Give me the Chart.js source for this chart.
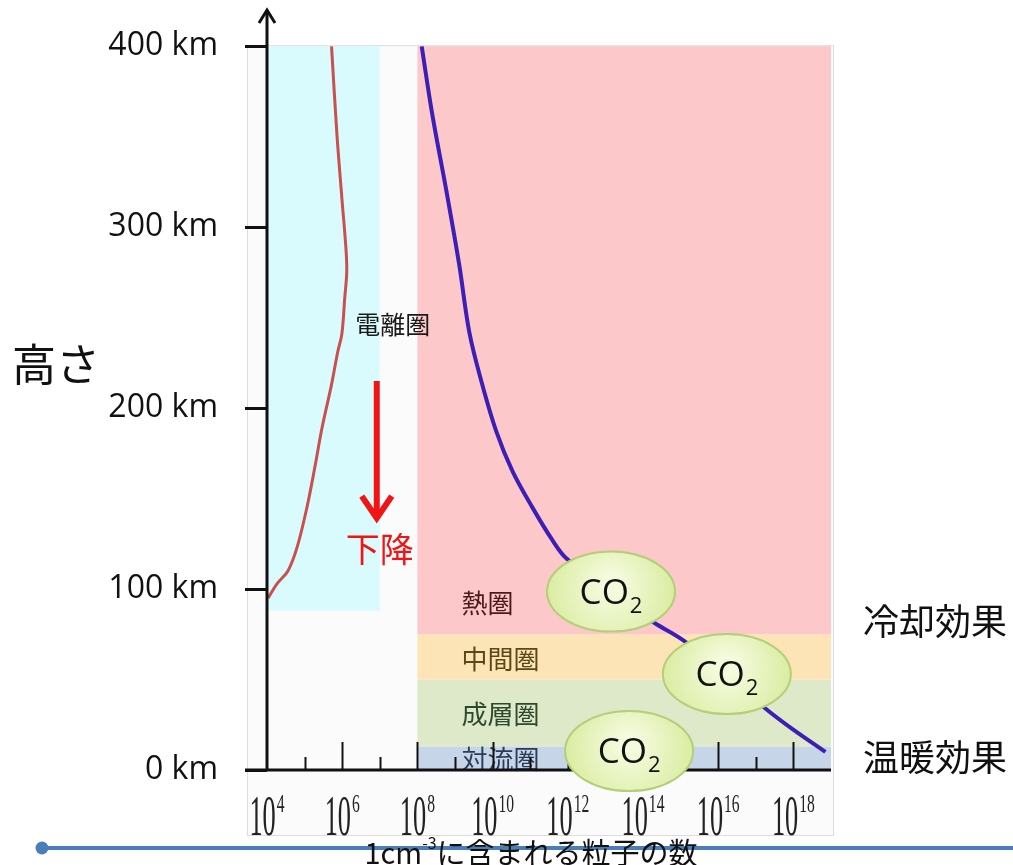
<!DOCTYPE html>
<html lang="ja">
<head>
<meta charset="utf-8">
<title>高さと粒子の数</title>
<script src="https://cdn.jsdelivr.net/npm/chart.js@4.4.1/dist/chart.umd.min.js"></script>
<style>
    html, body { margin: 0; padding: 0; background: #fff; }
    #chart { display: block; }
</style>
</head>
<body>
<canvas id="chart" width="1013" height="865"></canvas>
<script>
// 高さの目盛 (km)
const altTicks = [0, 100, 200, 300, 400];
// x軸: 10^n の目盛 (ラベルは偶数のみ)
const decades = [5, 6, 7, 8, 9, 10, 11, 12, 13, 14, 15, 16, 17, 18];
const labelledDecades = [4, 6, 8, 10, 12, 14, 16, 18];

// 電離圏のイオン密度 (赤線)
const ionAlt = [400, 352, 316, 288, 275, 261, 241, 231, 213, 189, 167, 145, 123, 110, 103, 95];
const ionDensity = [5.2e5, 7.2e5, 9.8e5, 1.26e6, 1.32e6, 1.17e6, 9.8e5, 7.6e5, 5.2e5,
    2.9e5, 1.86e5, 1.15e5, 6.3e4, 3.6e4, 1.86e4, 1.07e4];

// 大気の粒子数密度 (青線)
const gasAlt = [400, 362, 320, 279, 242, 215, 187, 165, 145, 127, 117, 99, 81.5, 70.5, 34, 23, 10];
const gasDensity = [1.3e8, 2.5e8, 5.9e8, 1.3e9, 2.4e9, 5.0e9, 1.26e10, 3.4e10, 1.15e11,
    3.9e11, 9.1e11, 1.26e13, 1.95e14, 1.4e15, 1.8e17, 8.9e17, 7.1e18];

// 大気の層
const layerNames = ['対流圏', '成層圏', '中間圏', '熱圏'];
const layerBottom = [0, 13, 50, 75];
const layerTop = [13, 50, 75, 400];
const layerRange = [1e8, 1e19];

// 電離圏の範囲
const ionoRange = [1e4, 1e7];
const ionoAltRange = [88, 400];

// 見た目
const layerFill = ['#c6d5e8', '#dde9c9', '#fde4b7', '#fcc8c9'];
const layerInk = ['#2b3b58', '#2e4a2c', '#5a4816', '#4c1a1a'];
const layerLabelAlt = [6, 31, 61, 92];
const co2Marks = [[1.41e13, 98.6], [1.7e16, 53], [4.27e13, 10.5]];

Chart.defaults.font.family = '"Open Sans", "Noto Sans CJK JP", sans-serif';
Chart.defaults.color = "#111";

function toPoints(xs, ys) {
    return xs.map(function (v, i) { return {x: v, y: ys[i]}; });
}

function drawPower(ctx, cx, exp) {
    var sx = 0.47;
    ctx.font = '56px "Liberation Serif"';
    var wBase = ctx.measureText('10').width * sx;
    ctx.font = '26px "Liberation Serif"';
    var wExp = ctx.measureText(String(exp)).width * 0.6;
    var left = cx - (wBase + wExp + 1) / 2;
    ctx.save();
    ctx.translate(left, 835);
    ctx.scale(sx, 1);
    ctx.font = '56px "Liberation Serif"';
    ctx.fillText('10', 0, 0);
    ctx.restore();
    ctx.save();
    ctx.translate(left + wBase + 1, 812);
    ctx.scale(0.6, 1);
    ctx.font = '26px "Liberation Serif"';
    ctx.fillText(String(exp), 0, 0);
    ctx.restore();
}

function drawCO2(ctx, cx, cy) {
    var g = ctx.createRadialGradient(cx, cy - 8, 10, cx, cy, 66);
    g.addColorStop(0, '#f4fadc');
    g.addColorStop(1, '#d9ec9f');
    ctx.beginPath();
    ctx.ellipse(cx, cy, 64, 40, 0, 0, Math.PI * 2);
    ctx.fillStyle = g;
    ctx.fill();
    ctx.lineWidth = 2;
    ctx.strokeStyle = '#b4cf78';
    ctx.stroke();
    ctx.fillStyle = '#111';
    ctx.textBaseline = 'alphabetic';
    ctx.textAlign = 'left';
    ctx.font = '35px "Open Sans"';
    var w1 = ctx.measureText('CO').width;
    ctx.font = '22px "Open Sans"';
    var w2 = ctx.measureText('2').width;
    var left = cx - (w1 + w2 + 1) / 2;
    ctx.font = '35px "Open Sans"';
    ctx.fillText('CO', left, cy + 12);
    ctx.font = '22px "Open Sans"';
    ctx.fillText('2', left + w1 + 1, cy + 21);
}

const atmospherePlugin = {
    id: 'atmosphere',
    beforeDraw: function (chart) {
        var ctx = chart.ctx, a = chart.chartArea, x = chart.scales.x, y = chart.scales.y;
        ctx.save();
        ctx.fillStyle = '#fff';
        ctx.fillRect(0, 0, chart.width, chart.height);

        // 元図の枠
        ctx.fillStyle = '#fbfbfb';
        ctx.fillRect(a.left - 20, a.top, a.width + 22, a.height + 66);
        ctx.strokeStyle = '#dcdcdc';
        ctx.lineWidth = 1;
        ctx.strokeRect(a.left - 19.5, a.top - 0.5, a.width + 22, a.height + 66);

        // 電離圏
        var x0 = x.getPixelForValue(ionoRange[0]), x1 = x.getPixelForValue(ionoRange[1]);
        var y0 = y.getPixelForValue(ionoAltRange[1]), y1 = y.getPixelForValue(ionoAltRange[0]);
        ctx.fillStyle = '#d9fbfd';
        ctx.fillRect(x0, y0, x1 - x0, y1 - y0);

        // 大気の層
        var lx0 = x.getPixelForValue(layerRange[0]), lx1 = x.getPixelForValue(layerRange[1]);
        layerNames.forEach(function (name, i) {
            var t = y.getPixelForValue(layerTop[i]), b = y.getPixelForValue(layerBottom[i]);
            ctx.fillStyle = layerFill[i];
            ctx.fillRect(lx0, t, lx1 - lx0, b - t);
        });
        ctx.restore();
    },
    afterDatasetsDraw: function (chart) {
        var ctx = chart.ctx, a = chart.chartArea, x = chart.scales.x, y = chart.scales.y;
        ctx.save();

        // 層の名前
        ctx.font = '26px "Noto Sans CJK JP"';
        ctx.textBaseline = 'middle';
        ctx.textAlign = 'left';
        var lx = x.getPixelForValue(layerRange[0]) + 44;
        layerNames.forEach(function (name, i) {
            ctx.fillStyle = layerInk[i];
            ctx.fillText(name, lx, y.getPixelForValue(layerLabelAlt[i]));
        });

        // x軸の目盛
        ctx.strokeStyle = '#111';
        ctx.lineWidth = 2;
        decades.forEach(function (n) {
            var px = Math.round(x.getPixelForValue(Math.pow(10, n))) + 0.5;
            var len = (n % 2 === 0) ? 28 : 13;
            ctx.beginPath();
            ctx.moveTo(px, a.bottom);
            ctx.lineTo(px, a.bottom - len);
            ctx.stroke();
        });

        // 軸
        ctx.lineWidth = 3;
        ctx.beginPath();
        ctx.moveTo(a.left - 22, a.bottom);
        ctx.lineTo(a.right, a.bottom);
        ctx.stroke();
        ctx.beginPath();
        ctx.moveTo(a.left, a.bottom);
        ctx.lineTo(a.left, 10);
        ctx.stroke();
        ctx.beginPath();
        ctx.moveTo(a.left - 8, 23);
        ctx.lineTo(a.left, 10);
        ctx.lineTo(a.left + 8, 23);
        ctx.stroke();

        // x軸ラベル
        ctx.fillStyle = '#222';
        ctx.textBaseline = 'alphabetic';
        labelledDecades.forEach(function (n) {
            drawPower(ctx, x.getPixelForValue(Math.pow(10, n)), n);
        });

        // 電離圏 と 下降
        ctx.fillStyle = '#1a1a1a';
        ctx.font = '25px "Noto Sans CJK JP"';
        ctx.textAlign = 'center';
        ctx.textBaseline = 'middle';
        ctx.fillText('電離圏', x.getPixelForValue(2.2e7), y.getPixelForValue(246));

        var ax = x.getPixelForValue(8.3e6);
        var ayTop = y.getPixelForValue(215), ayTip = y.getPixelForValue(137);
        ctx.strokeStyle = '#f01414';
        ctx.lineWidth = 6;
        ctx.lineCap = 'butt';
        ctx.beginPath();
        ctx.moveTo(ax, ayTop);
        ctx.lineTo(ax, ayTip - 4);
        ctx.stroke();
        ctx.lineJoin = 'miter';
        ctx.beginPath();
        ctx.moveTo(ax - 15, ayTip - 26);
        ctx.lineTo(ax, ayTip - 4);
        ctx.lineTo(ax + 15, ayTip - 26);
        ctx.stroke();
        ctx.fillStyle = '#f01414';
        ctx.font = '34px "Noto Sans CJK JP"';
        ctx.fillText('下降', x.getPixelForValue(1e7), y.getPixelForValue(122));

        // CO2
        co2Marks.forEach(function (m) {
            drawCO2(ctx, x.getPixelForValue(m[0]), y.getPixelForValue(m[1]));
        });

        // 右側の注記・縦軸タイトル
        ctx.fillStyle = '#111';
        ctx.textAlign = 'center';
        ctx.textBaseline = 'middle';
        ctx.font = '36px "Noto Sans CJK JP"';
        ctx.fillText('冷却効果', a.right + 104, y.getPixelForValue(82));
        ctx.fillText('温暖効果', a.right + 104, y.getPixelForValue(7));
        ctx.font = '44px "Noto Sans CJK JP"';
        ctx.fillText('高さ', 56, y.getPixelForValue(224));

        // スライドの線
        ctx.strokeStyle = '#4a7ebb';
        ctx.lineWidth = 4;
        ctx.beginPath();
        ctx.moveTo(42, 848);
        ctx.lineTo(chart.width, 848);
        ctx.stroke();
        ctx.fillStyle = '#4a7ebb';
        ctx.beginPath();
        ctx.arc(42, 848, 6.5, 0, Math.PI * 2);
        ctx.fill();

        // x軸タイトル
        ctx.fillStyle = '#111';
        ctx.textAlign = 'left';
        var p1 = '1cm', p2 = '-3', p3 = 'に含まれる粒子の数';
        ctx.font = '29px "Noto Sans CJK JP"';
        var w1 = ctx.measureText(p1).width, w3 = ctx.measureText(p3).width;
        ctx.font = '16px "Noto Sans CJK JP"';
        var w2 = ctx.measureText(p2).width;
        var tx = 531 - (w1 + w2 + w3) / 2;
        ctx.font = '29px "Noto Sans CJK JP"';
        ctx.fillText(p1, tx, 853);
        ctx.font = '16px "Noto Sans CJK JP"';
        ctx.fillText(p2, tx + w1, 843);
        ctx.font = '29px "Noto Sans CJK JP"';
        ctx.fillText(p3, tx + w1 + w2, 853);
        ctx.restore();
    }
};

var ctx1 = document.getElementById('chart').getContext('2d');
var myChart = new Chart(ctx1, {
    type: 'scatter',
    data: {
        datasets: [{
            label: 'イオン',
            data: toPoints(ionDensity, ionAlt),
            showLine: true,
            borderColor: '#c8504e',
            borderWidth: 3,
            pointRadius: 0,
            tension: 0.35
        },
        {
            label: '大気',
            data: toPoints(gasDensity, gasAlt),
            showLine: true,
            borderColor: '#3d1fb6',
            borderWidth: 4,
            pointRadius: 0,
            tension: 0.35
        }]
    },
    options: {
        responsive: false,
        animation: false,
        layout: { padding: { left: 0, top: 44, right: 182, bottom: 0 } },
        plugins: { legend: { display: false }, tooltip: { enabled: false } },
        scales: {
            x: {
                type: 'logarithmic',
                min: 1e4,
                max: 1e19,
                grid: { display: false },
                border: { display: false },
                ticks: { display: false },
                afterFit: function (scale) { scale.height = 95; }
            },
            y: {
                min: 0,
                max: 400,
                afterBuildTicks: function (scale) {
                    scale.ticks = altTicks.map(function (v) { return {value: v}; });
                },
                ticks: {
                    padding: 27,
                    color: '#111',
                    font: { size: 32 },
                    callback: function (v) { return v + ' km'; }
                },
                grid: { drawOnChartArea: false, tickLength: 22, color: '#111', lineWidth: 3 },
                border: { display: false },
                afterFit: function (scale) { scale.width = 267; }
            }
        }
    },
    plugins: [atmospherePlugin]
});
</script>
</body>
</html>
